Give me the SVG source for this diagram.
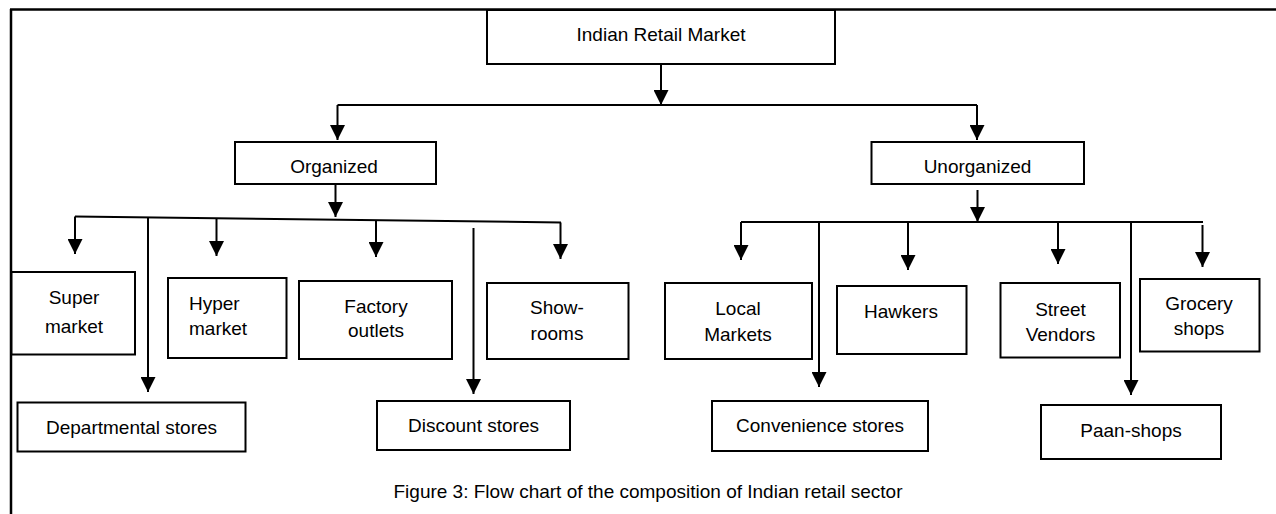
<svg xmlns="http://www.w3.org/2000/svg" width="1276" height="514" viewBox="0 0 1276 514">
<defs>
<style>
.box{fill:#fff;stroke:#000;stroke-width:2}
.t{font-family:"Liberation Sans",Arial,sans-serif;font-size:19px;fill:#000;text-anchor:middle}
.tl{text-anchor:start}
.c{stroke:#000;stroke-width:2;fill:none}
.a{marker-end:url(#ah)}
</style>
<marker id="ah" markerUnits="userSpaceOnUse" viewBox="0 0 16 16" refX="16" refY="8" markerWidth="15" markerHeight="15" orient="auto">
<path d="M0,0 L16,8 L0,16 z" fill="#000"/>
</marker>
</defs>
<rect width="1276" height="514" fill="#fff"/>
<g id="frame">
<line x1="11" y1="9" x2="11" y2="514" stroke="#000" stroke-width="2.5"/>
<line x1="10" y1="9.5" x2="1276" y2="9.5" stroke="#000" stroke-width="2.5"/>
</g>
<g id="connectors">
<line class="c a" x1="661" y1="64" x2="661" y2="105"/>
<line class="c" x1="337.5" y1="105" x2="977" y2="105"/>
<line class="c a" x1="337.5" y1="105" x2="337.5" y2="140"/>
<line class="c a" x1="977" y1="105" x2="977" y2="140"/>
<line class="c a" x1="335.5" y1="185" x2="335.5" y2="217"/>
<line class="c" x1="75" y1="216.5" x2="561" y2="222.5"/>
<line class="c a" x1="75" y1="216.5" x2="75" y2="254"/>
<line class="c a" x1="148" y1="217.4" x2="148" y2="392"/>
<line class="c a" x1="216.5" y1="218.2" x2="216.5" y2="256"/>
<line class="c a" x1="376" y1="220.2" x2="376" y2="257"/>
<line class="c a" x1="473.5" y1="228" x2="473.5" y2="394"/>
<line class="c a" x1="560.5" y1="222.5" x2="560.5" y2="259"/>
<line class="c a" x1="977.5" y1="190" x2="977.5" y2="222"/>
<line class="c" x1="741" y1="222" x2="1203" y2="222"/>
<line class="c a" x1="741" y1="222" x2="741" y2="260"/>
<line class="c a" x1="819" y1="222" x2="819" y2="387"/>
<line class="c a" x1="908" y1="222" x2="908" y2="270"/>
<line class="c a" x1="1058" y1="222" x2="1058" y2="264"/>
<line class="c a" x1="1131" y1="222" x2="1131" y2="395"/>
<line class="c a" x1="1202.5" y1="225" x2="1202.5" y2="267"/>
</g>
<g id="n-indian"><rect class="box" x="487" y="10" width="348" height="54"/><text class="t" x="661" y="41">Indian Retail Market</text></g>
<g id="n-organized"><rect class="box" x="235" y="142" width="201" height="42"/><text class="t" x="334" y="173">Organized</text></g>
<g id="n-unorganized"><rect class="box" x="871.5" y="142" width="212.5" height="42"/><text class="t" x="977.5" y="173">Unorganized</text></g>
<g id="n-super"><rect class="box" x="11.5" y="272" width="123.5" height="82.5"/><text class="t" x="74" y="304">Super</text><text class="t" x="74" y="333">market</text></g>
<g id="n-hyper"><rect class="box" x="168" y="278" width="118.5" height="80"/><text class="t tl" x="189" y="310">Hyper</text><text class="t tl" x="189" y="335">market</text></g>
<g id="n-factory"><rect class="box" x="299" y="281" width="153" height="78"/><text class="t" x="376" y="313">Factory</text><text class="t" x="376" y="337">outlets</text></g>
<g id="n-showrooms"><rect class="box" x="487" y="283" width="141.5" height="76"/><text class="t" x="557" y="314">Show-</text><text class="t" x="557" y="340">rooms</text></g>
<g id="n-departmental"><rect class="box" x="17.5" y="402.5" width="228" height="49"/><text class="t" x="131.5" y="434">Departmental stores</text></g>
<g id="n-discount"><rect class="box" x="377" y="401" width="193" height="49"/><text class="t" x="473.5" y="432">Discount stores</text></g>
<g id="n-local"><rect class="box" x="665" y="283" width="147" height="76"/><text class="t" x="738" y="315">Local</text><text class="t" x="738" y="341">Markets</text></g>
<g id="n-hawkers"><rect class="box" x="837" y="286" width="129.5" height="68"/><text class="t" x="901" y="318">Hawkers</text></g>
<g id="n-street"><rect class="box" x="1000.5" y="283" width="119.5" height="74.5"/><text class="t" x="1060.5" y="316">Street</text><text class="t" x="1060.5" y="341">Vendors</text></g>
<g id="n-grocery"><rect class="box" x="1140" y="279" width="119.5" height="72.5"/><text class="t" x="1199" y="310">Grocery</text><text class="t" x="1199" y="335">shops</text></g>
<g id="n-convenience"><rect class="box" x="712" y="401" width="216" height="50"/><text class="t" x="820" y="432">Convenience stores</text></g>
<g id="n-paan"><rect class="box" x="1041" y="405" width="180" height="54"/><text class="t" x="1131" y="437">Paan-shops</text></g>
<text class="t" x="648" y="498">Figure 3: Flow chart of the composition of Indian retail sector</text>
</svg>
